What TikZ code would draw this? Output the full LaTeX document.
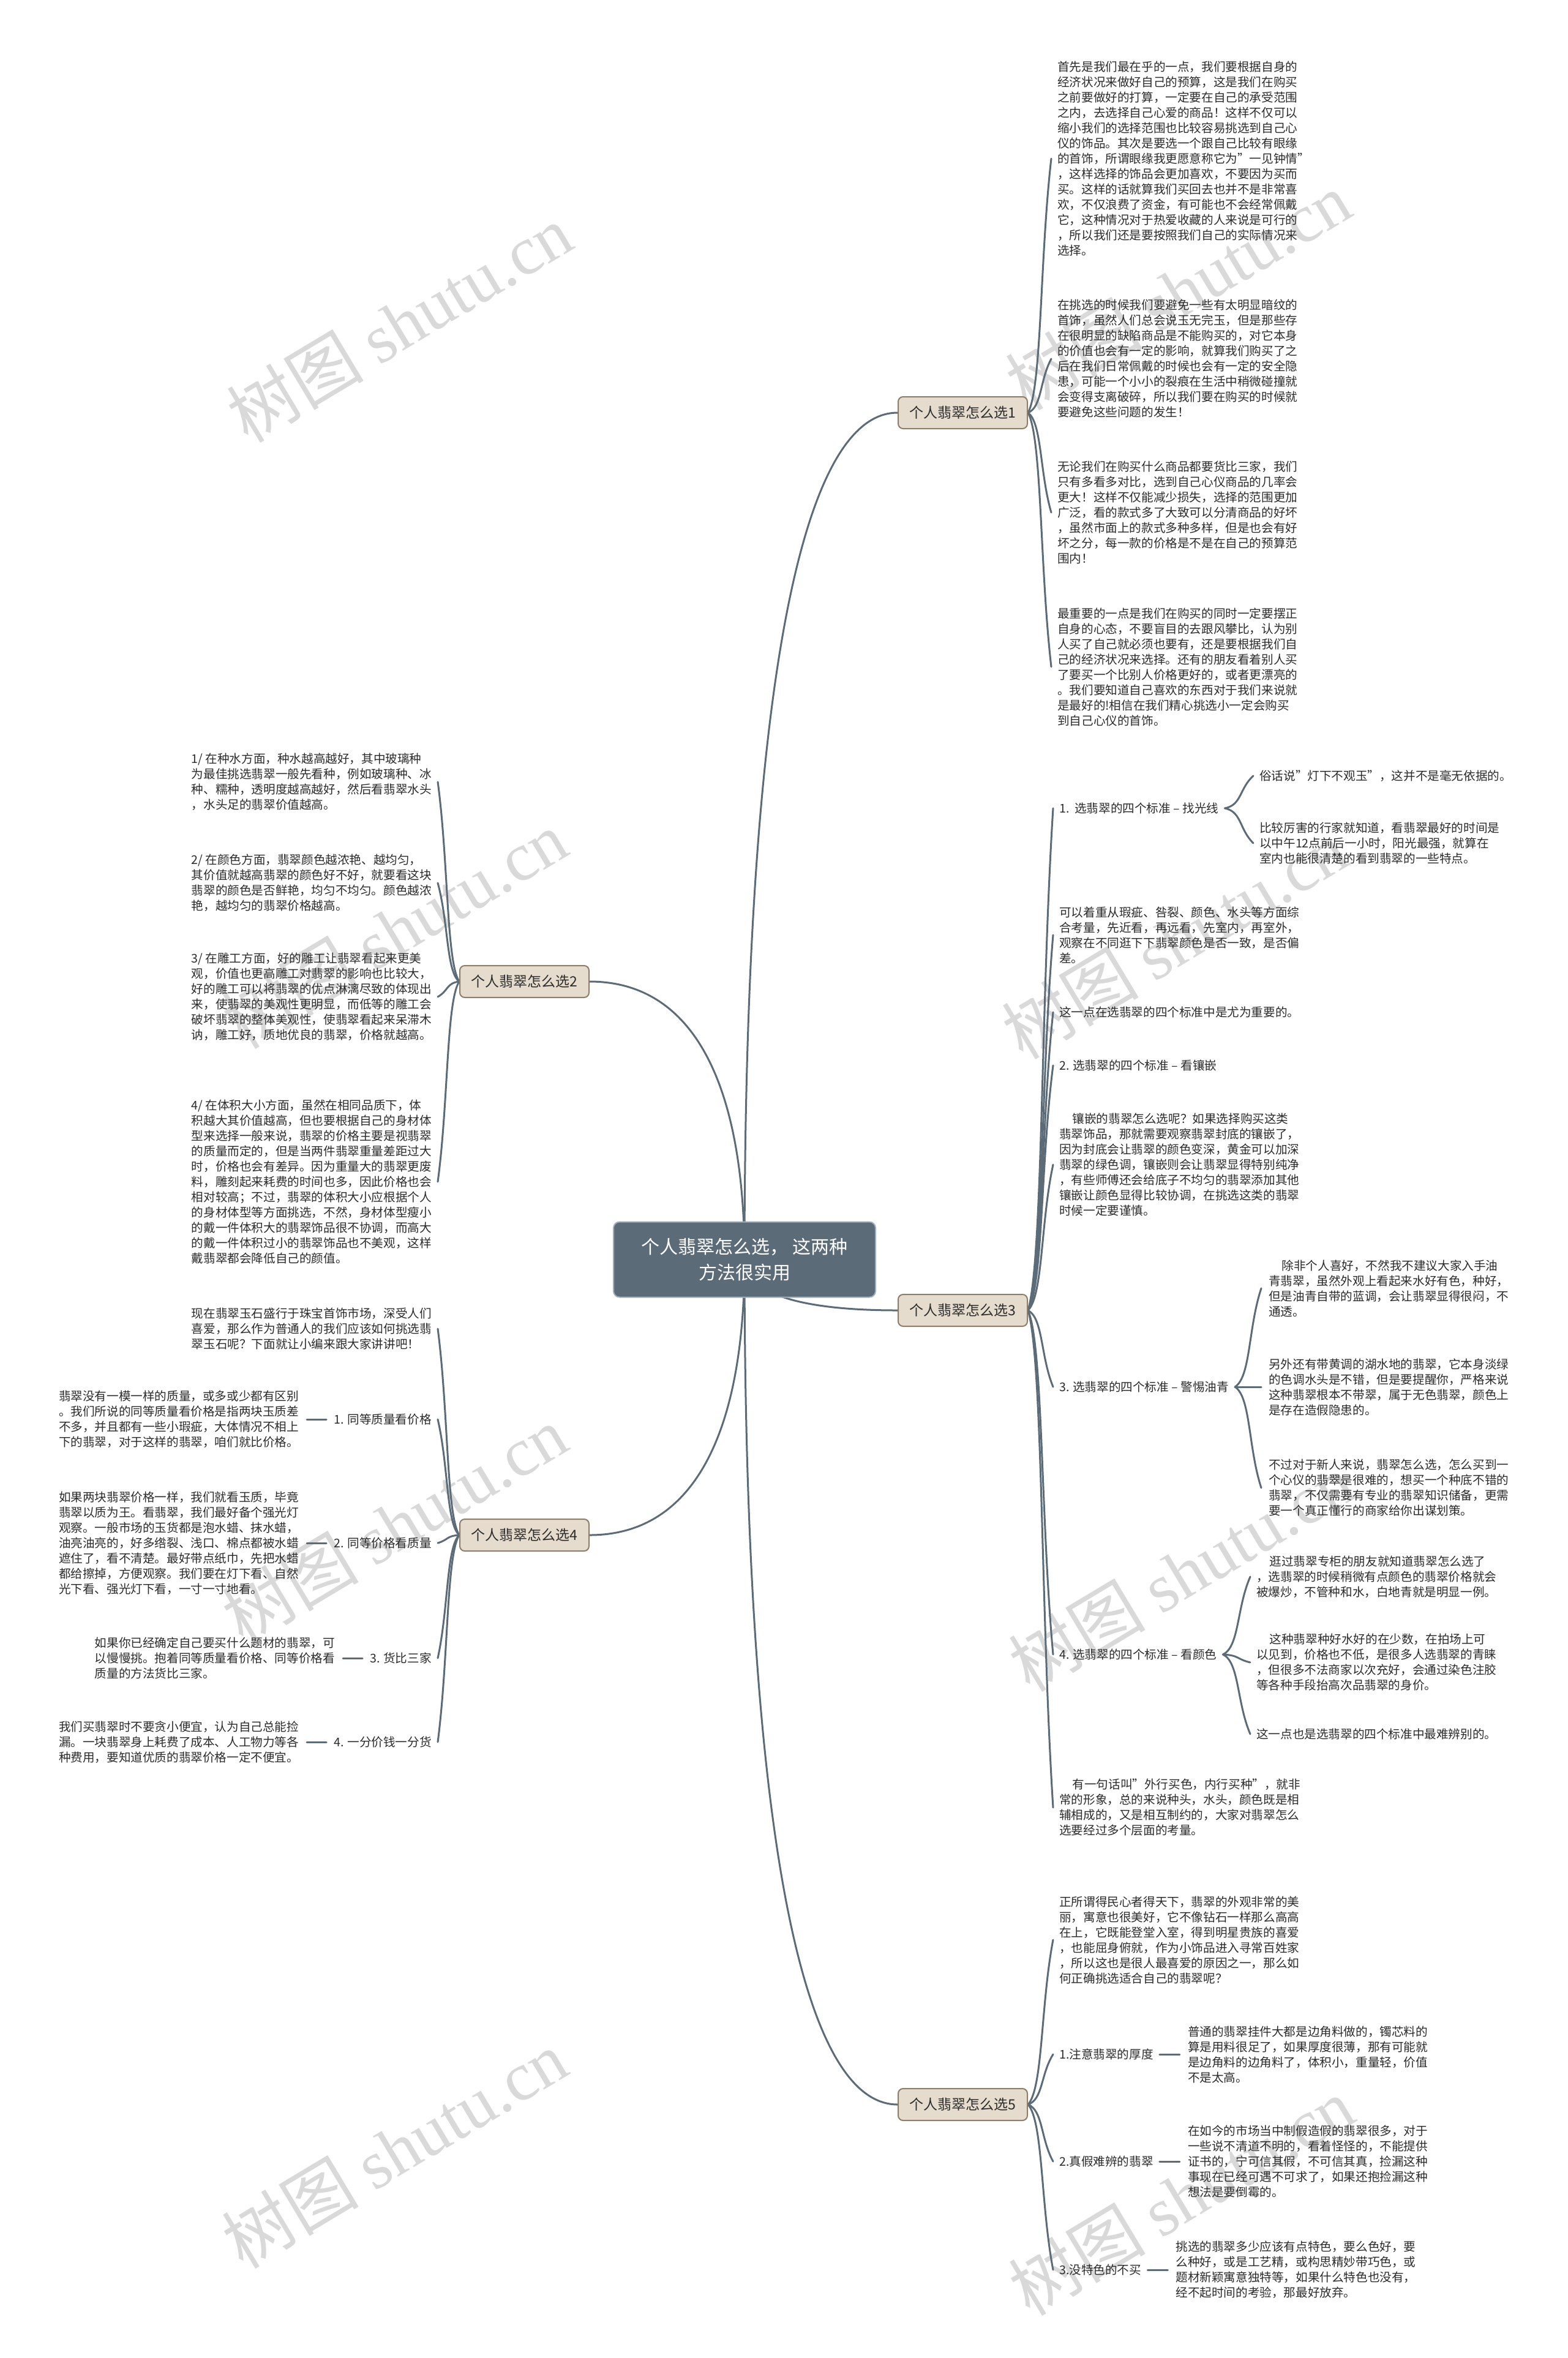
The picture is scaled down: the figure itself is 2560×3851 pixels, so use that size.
\documentclass[tikz,border=0pt]{standalone}
\usepackage{fontspec}
\setmainfont{Noto Sans CJK SC}
\newfontfamily\wmfont{Liberation Serif}
\usetikzlibrary{calc}
\pgfdeclarelayer{wmlayer}
\pgfdeclarelayer{bglayer}
\pgfsetlayers{wmlayer,bglayer,main}
\definecolor{linec}{HTML}{5B6B78}
\definecolor{textc}{HTML}{2B2B2B}
\definecolor{rootf}{HTML}{5B6B78}
\definecolor{rootb}{HTML}{9FB0BC}
\definecolor{branchf}{HTML}{E6DCCD}
\definecolor{branchb}{HTML}{8C7E6B}
\definecolor{wmc}{HTML}{D9D9D9}
\newcommand\cconn[2]{\draw[conn] let \p1=(#1), \p2=(#2) in (\p1) .. controls ({\x1+0.6*(\x2-\x1)},{\y1+0.1*(\y2-\y1)}) and ({\x1+0.5*(\x2-\x1)},{\y1+0.6*(\y2-\y1)}) .. (\p2);}
\newcommand\rconn[2]{\draw[conn] let \p1=(#1), \p2=(#2) in (\p1) .. controls ({\x1},{\y1+0.6*(\y2-\y1)}) and ({\x1+0.3*(\x2-\x1)},{\y2}) .. (\p2);}
\begin{document}
\begin{tikzpicture}[x=1pt,y=-1pt,
  txt/.style={anchor=west, align=left, inner sep=0pt, text=textc, font=\fontsize{19.6pt}{25pt}\selectfont},
  txtr/.style={txt, anchor=east},
  conn/.style={draw=linec, line width=3pt, line cap=round},
  branch/.style={draw=branchb, fill=branchf, line width=2pt, rounded corners=8pt, minimum width=211pt, minimum height=52pt, inner sep=0pt, text=textc, font=\fontsize{23pt}{28pt}\selectfont},
  rootbox/.style={draw=rootb, fill=rootf, line width=2pt, rounded corners=10pt, minimum width=428pt, minimum height=123pt, inner sep=0pt, align=center, text=white, font=\fontsize{30pt}{42pt}\selectfont},
  wm/.style={text=wmc, rotate=31, inner sep=0pt, font=\fontsize{112pt}{118pt}\selectfont}
]
\begin{pgfonlayer}{wmlayer}
\fill[white] (0,0) rectangle (2560,3851);
\node[wm] (wm1) at (652,528) {树图 {\wmfont shutu.cn}};
\node[wm] (wm2) at (1924,475) {树图 {\wmfont shutu.cn}};
\node[wm] (wm3) at (644,1518) {树图 {\wmfont shutu.cn}};
\node[wm] (wm4) at (1918,1535) {树图 {\wmfont shutu.cn}};
\node[wm] (wm5) at (644,2490) {树图 {\wmfont shutu.cn}};
\node[wm] (wm6) at (1929,2568) {树图 {\wmfont shutu.cn}};
\node[wm] (wm7) at (644,3510) {树图 {\wmfont shutu.cn}};
\node[wm] (wm8) at (1929,3587) {树图 {\wmfont shutu.cn}};
\end{pgfonlayer}
\useasboundingbox (0,0) rectangle (2560,3851);

% root and branches
\node[rootbox] (root) at (1216,2057) {个人翡翠怎么选， 这两种\\方法很实用};
\node[branch] (b1) at (1572.5,674) {个人翡翠怎么选1};
\node[branch] (b2) at (856.5,1603) {个人翡翠怎么选2};
\node[branch] (b3) at (1572.5,2140) {个人翡翠怎么选3};
\node[branch] (b4) at (856.5,2507) {个人翡翠怎么选4};
\node[branch] (b5) at (1572.5,3437) {个人翡翠怎么选5};

% section 1
\node[txt] (p1) at (1727,259) {首先是我们最在乎的一点，我们要根据自身的\\经济状况来做好自己的预算，这是我们在购买\\之前要做好的打算，一定要在自己的承受范围\\之内，去选择自己心爱的商品！这样不仅可以\\缩小我们的选择范围也比较容易挑选到自己心\\仪的饰品。其次是要选一个跟自己比较有眼缘\\的首饰，所谓眼缘我更愿意称它为"一见钟情"\\，这样选择的饰品会更加喜欢，不要因为买而\\买。这样的话就算我们买回去也并不是非常喜\\欢，不仅浪费了资金，有可能也不会经常佩戴\\它，这种情况对于热爱收藏的人来说是可行的\\，所以我们还是要按照我们自己的实际情况来\\选择。};
\node[txt] (p2) at (1727,586) {在挑选的时候我们要避免一些有太明显暗纹的\\首饰，虽然人们总会说玉无完玉，但是那些存\\在很明显的缺陷商品是不能购买的，对它本身\\的价值也会有一定的影响，就算我们购买了之\\后在我们日常佩戴的时候也会有一定的安全隐\\患，可能一个小小的裂痕在生活中稍微碰撞就\\会变得支离破碎，所以我们要在购买的时候就\\要避免这些问题的发生！};
\node[txt] (p3) at (1727,837) {无论我们在购买什么商品都要货比三家，我们\\只有多看多对比，选到自己心仪商品的几率会\\更大！这样不仅能减少损失，选择的范围更加\\广泛，看的款式多了大致可以分清商品的好坏\\，虽然市面上的款式多种多样，但是也会有好\\坏之分，每一款的价格是不是在自己的预算范\\围内！};
\node[txt] (p4) at (1727,1089) {最重要的一点是我们在购买的同时一定要摆正\\自身的心态，不要盲目的去跟风攀比，认为别\\人买了自己就必须也要有，还是要根据我们自\\己的经济状况来选择。还有的朋友看着别人买\\了要买一个比别人价格更好的，或者更漂亮的\\。我们要知道自己喜欢的东西对于我们来说就\\是最好的!相信在我们精心挑选小一定会购买\\到自己心仪的首饰。};

% section 3
\node[txt] (sA) at (1730,1320) {1.\ \ 选翡翠的四个标准 – 找光线};
\node[txt] (sA1) at (2057,1267) {俗话说"灯下不观玉"，这并不是毫无依据的。};
\node[txt] (sA2) at (2057,1377) {比较厉害的行家就知道，看翡翠最好的时间是\\以中午12点前后一小时，阳光最强，就算在\\室内也能很清楚的看到翡翠的一些特点。};
\node[txt] (sB) at (1730,1527) {可以着重从瑕疵、咎裂、颜色、水头等方面综\\合考量，先近看，再远看，先室内，再室外，\\观察在不同逛下下翡翠颜色是否一致，是否偏\\差。};
\node[txt] (sC) at (1730,1653) {这一点在选翡翠的四个标准中是尤为重要的。};
\node[txt] (sD) at (1730,1740) {2. 选翡翠的四个标准 – 看镶嵌};
\node[txt] (sE) at (1730,1902) {\hspace*{1.1em}镶嵌的翡翠怎么选呢？如果选择购买这类\\翡翠饰品，那就需要观察翡翠封底的镶嵌了，\\因为封底会让翡翠的颜色变深，黄金可以加深\\翡翠的绿色调，镶嵌则会让翡翠显得特别纯净\\，有些师傅还会给底子不均匀的翡翠添加其他\\镶嵌让颜色显得比较协调，在挑选这类的翡翠\\时候一定要谨慎。};
\node[txt] (sF) at (1730,2265) {3. 选翡翠的四个标准 – 警惕油青};
\node[txt] (sF1) at (2072,2104) {\hspace*{1.1em}除非个人喜好，不然我不建议大家入手油\\青翡翠，虽然外观上看起来水好有色，种好，\\但是油青自带的蓝调，会让翡翠显得很闷，不\\通透。};
\node[txt] (sF2) at (2072,2265) {另外还有带黄调的湖水地的翡翠，它本身淡绿\\的色调水头是不错，但是要提醒你，严格来说\\这种翡翠根本不带翠，属于无色翡翠，颜色上\\是存在造假隐患的。};
\node[txt] (sF3) at (2072,2430) {不过对于新人来说，翡翠怎么选，怎么买到一\\个心仪的翡翠是很难的，想买一个种底不错的\\翡翠，不仅需要有专业的翡翠知识储备，更需\\要一个真正懂行的商家给你出谋划策。};
\node[txt] (sG) at (1730,2702) {4. 选翡翠的四个标准 – 看颜色};
\node[txt] (sG1) at (2052,2575) {\hspace*{1.1em}逛过翡翠专柜的朋友就知道翡翠怎么选了\\，选翡翠的时候稍微有点颜色的翡翠价格就会\\被爆炒，不管种和水，白地青就是明显一例。};
\node[txt] (sG2) at (2052,2715) {\hspace*{1.1em}这种翡翠种好水好的在少数，在拍场上可\\以见到，价格也不低，是很多人选翡翠的青睐\\，但很多不法商家以次充好，会通过染色注胶\\等各种手段抬高次品翡翠的身价。};
\node[txt] (sG3) at (2052,2832) {这一点也是选翡翠的四个标准中最难辨别的。};
\node[txt] (sH) at (1730,2952) {\hspace*{1.1em}有一句话叫"外行买色，内行买种"，就非\\常的形象，总的来说种头，水头，颜色既是相\\辅相成的，又是相互制约的，大家对翡翠怎么\\选要经过多个层面的考量。};

% section 5
\node[txt] (s5a) at (1730,3168) {正所谓得民心者得天下，翡翠的外观非常的美\\丽，寓意也很美好，它不像钻石一样那么高高\\在上，它既能登堂入室，得到明星贵族的喜爱\\，也能屈身俯就，作为小饰品进入寻常百姓家\\，所以这也是很人最喜爱的原因之一，那么如\\何正确挑选适合自己的翡翠呢？};
\node[txt] (s5b) at (1730,3355) {1.注意翡翠的厚度};
\node[txt] (s5b1) at ([xshift=56pt]s5b.east) {普通的翡翠挂件大都是边角料做的，镯芯料的\\算是用料很足了，如果厚度很薄，那有可能就\\是边角料的边角料了，体积小，重量轻，价值\\不是太高。};
\node[txt] (s5c) at (1730,3530) {2.真假难辨的翡翠};
\node[txt] (s5c1) at ([xshift=56pt]s5c.east) {在如今的市场当中制假造假的翡翠很多，对于\\一些说不清道不明的，看着怪怪的，不能提供\\证书的，宁可信其假，不可信其真，捡漏这种\\事现在已经可遇不可求了，如果还抱捡漏这种\\想法是要倒霉的。};
\node[txt] (s5d) at (1730,3707) {3.没特色的不买};
\node[txt] (s5d1) at ([xshift=56pt]s5d.east) {挑选的翡翠多少应该有点特色，要么色好，要\\么种好，或是工艺精，或构思精妙带巧色，或\\题材新颖寓意独特等，如果什么特色也没有，\\经不起时间的考验，那最好放弃。};

% section 2
\node[txtr] (l2a) at (705,1277) {1/ 在种水方面，种水越高越好，其中玻璃种\\为最佳挑选翡翠一般先看种，例如玻璃种、冰\\种、糯种，透明度越高越好，然后看翡翠水头\\，水头足的翡翠价值越高。};
\node[txtr] (l2b) at (705,1442) {2/ 在颜色方面，翡翠颜色越浓艳、越均匀，\\其价值就越高翡翠的颜色好不好，就要看这块\\翡翠的颜色是否鲜艳，均匀不均匀。颜色越浓\\艳，越均匀的翡翠价格越高。};
\node[txtr] (l2c) at (705,1628) {3/ 在雕工方面，好的雕工让翡翠看起来更美\\观，价值也更高雕工对翡翠的影响也比较大，\\好的雕工可以将翡翠的优点淋漓尽致的体现出\\来，使翡翠的美观性更明显，而低等的雕工会\\破坏翡翠的整体美观性，使翡翠看起来呆滞木\\讷，雕工好，质地优良的翡翠，价格就越高。};
\node[txtr] (l2d) at (705,1930) {4/ 在体积大小方面，虽然在相同品质下，体\\积越大其价值越高，但也要根据自己的身材体\\型来选择一般来说，翡翠的价格主要是视翡翠\\的质量而定的，但是当两件翡翠重量差距过大\\时，价格也会有差异。因为重量大的翡翠更废\\料，雕刻起来耗费的时间也多，因此价格也会\\相对较高；不过，翡翠的体积大小应根据个人\\的身材体型等方面挑选，不然，身材体型瘦小\\的戴一件体积大的翡翠饰品很不协调，而高大\\的戴一件体积过小的翡翠饰品也不美观，这样\\戴翡翠都会降低自己的颜值。};

% section 4
\node[txtr] (l4a) at (705,2170) {现在翡翠玉石盛行于珠宝首饰市场，深受人们\\喜爱，那么作为普通人的我们应该如何挑选翡\\翠玉石呢？下面就让小编来跟大家讲讲吧！};
\node[txtr] (l4b) at (705,2318) {1. 同等质量看价格};
\node[txtr] (l4b1) at ([xshift=-57pt]l4b.west) {翡翠没有一模一样的质量，或多或少都有区别\\。我们所说的同等质量看价格是指两块玉质差\\不多，并且都有一些小瑕疵，大体情况不相上\\下的翡翠，对于这样的翡翠，咱们就比价格。};
\node[txtr] (l4c) at (705,2520) {2. 同等价格看质量};
\node[txtr] (l4c1) at ([xshift=-57pt]l4c.west) {如果两块翡翠价格一样，我们就看玉质，毕竟\\翡翠以质为王。看翡翠，我们最好备个强光灯\\观察。一般市场的玉货都是泡水蜡、抹水蜡，\\油亮油亮的，好多绺裂、浅口、棉点都被水蜡\\遮住了，看不清楚。最好带点纸巾，先把水蜡\\都给擦掉，方便观察。我们要在灯下看、自然\\光下看、强光灯下看，一寸一寸地看。};
\node[txtr] (l4d) at (705,2708) {3. 货比三家};
\node[txtr] (l4d1) at ([xshift=-57pt]l4d.west) {如果你已经确定自己要买什么题材的翡翠，可\\以慢慢挑。抱着同等质量看价格、同等价格看\\质量的方法货比三家。};
\node[txtr] (l4e) at (705,2845) {4. 一分价钱一分货};
\node[txtr] (l4e1) at ([xshift=-57pt]l4e.west) {我们买翡翠时不要贪小便宜，认为自己总能捡\\漏。一块翡翠身上耗费了成本、人工物力等各\\种费用，要知道优质的翡翠价格一定不便宜。};

\begin{pgfonlayer}{bglayer}
% root connectors
\rconn{root.center}{b1.west}
\rconn{root.center}{b3.west}
\rconn{root.center}{b5.west}
\rconn{root.center}{b2.east}
\rconn{root.center}{b4.east}
% section 1
\cconn{b1.east}{[xshift=-10pt]p1.west}
\cconn{b1.east}{[xshift=-10pt]p2.west}
\cconn{b1.east}{[xshift=-10pt]p3.west}
\cconn{b1.east}{[xshift=-10pt]p4.west}
% section 3
\cconn{b3.east}{[xshift=-10pt]sA.west}
\cconn{b3.east}{[xshift=-10pt]sB.west}
\cconn{b3.east}{[xshift=-10pt]sC.west}
\cconn{b3.east}{[xshift=-10pt]sD.west}
\cconn{b3.east}{[xshift=-10pt]sE.west}
\cconn{b3.east}{[xshift=-10pt]sF.west}
\cconn{b3.east}{[xshift=-10pt]sG.west}
\cconn{b3.east}{[xshift=-10pt]sH.west}
\cconn{[xshift=10pt]sA.east}{[xshift=-10pt]sA1.west}
\cconn{[xshift=10pt]sA.east}{[xshift=-10pt]sA2.west}
\cconn{[xshift=10pt]sF.east}{[xshift=-12pt]sF1.west}
\cconn{[xshift=10pt]sF.east}{[xshift=-12pt]sF2.west}
\cconn{[xshift=10pt]sF.east}{[xshift=-12pt]sF3.west}
\cconn{[xshift=10pt]sG.east}{[xshift=-10pt]sG1.west}
\cconn{[xshift=10pt]sG.east}{[xshift=-10pt]sG2.west}
\cconn{[xshift=10pt]sG.east}{[xshift=-10pt]sG3.west}
% section 5
\cconn{b5.east}{[xshift=-10pt]s5a.west}
\cconn{b5.east}{[xshift=-10pt]s5b.west}
\cconn{b5.east}{[xshift=-10pt]s5c.west}
\cconn{b5.east}{[xshift=-10pt]s5d.west}
\draw[conn] ([xshift=10pt]s5b.east) -- ([xshift=-13pt]s5b1.west);
\draw[conn] ([xshift=10pt]s5c.east) -- ([xshift=-13pt]s5c1.west);
\draw[conn] ([xshift=10pt]s5d.east) -- ([xshift=-13pt]s5d1.west);
% section 2
\cconn{b2.west}{[xshift=10pt]l2a.east}
\cconn{b2.west}{[xshift=10pt]l2b.east}
\cconn{b2.west}{[xshift=10pt]l2c.east}
\cconn{b2.west}{[xshift=10pt]l2d.east}
% section 4
\cconn{b4.west}{[xshift=10pt]l4a.east}
\cconn{b4.west}{[xshift=10pt]l4b.east}
\cconn{b4.west}{[xshift=10pt]l4c.east}
\cconn{b4.west}{[xshift=10pt]l4d.east}
\cconn{b4.west}{[xshift=10pt]l4e.east}
\draw[conn] ([xshift=-12pt]l4b.west) -- ([xshift=13pt]l4b1.east);
\draw[conn] ([xshift=-12pt]l4c.west) -- ([xshift=13pt]l4c1.east);
\draw[conn] ([xshift=-12pt]l4d.west) -- ([xshift=13pt]l4d1.east);
\draw[conn] ([xshift=-12pt]l4e.west) -- ([xshift=13pt]l4e1.east);
\end{pgfonlayer}
\end{tikzpicture}
\end{document}
